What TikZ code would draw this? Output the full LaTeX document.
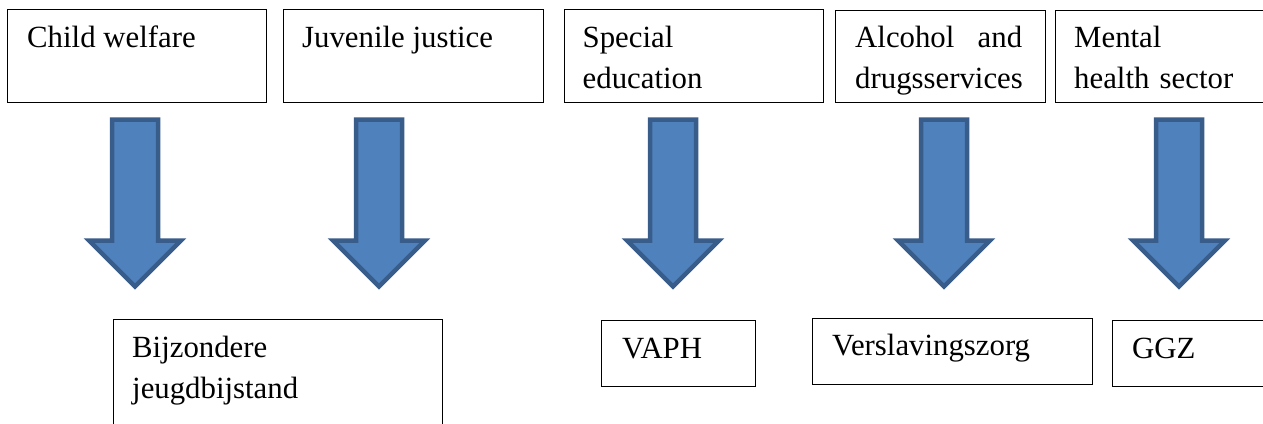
\documentclass[tikz,border=0pt]{standalone}
\usepackage{fontspec}
\setmainfont{Liberation Serif}
\usetikzlibrary{calc}
\definecolor{arrowfill}{HTML}{4F81BD}
\definecolor{arrowline}{HTML}{385D8A}
\tikzset{
  box/.style={draw=black, line width=1.2pt, rectangle, inner sep=0pt, anchor=north west},
  lbl/.style={inner sep=0pt, anchor=base west, font=\fontsize{30.8}{41}\selectfont},
  lbltwo/.style={lbl, align=left},
  blockarrow/.pic={
    \draw[fill=arrowfill, draw=arrowline, line width=4.5pt, line join=miter]
      (-23,0) -- (23,0) -- (23,121) -- (46,121) -- (0,167)
      -- (-46,121) -- (-23,121) -- cycle;
  }
}
\begin{document}
\begin{tikzpicture}[x=1pt, y=-1pt]
\clip (0,0) rectangle (1263,423);
\fill[white] (0,0) rectangle (1263,423);

% sectors (top row)
\node[box, minimum width=259pt, minimum height=93pt] (cw) at (7,9) {};
\node[box, minimum width=260pt, minimum height=93pt] (jj) at (283,9) {};
\node[box, minimum width=259pt, minimum height=93pt] (se) at (564,9) {};
\node[box, minimum width=210pt, minimum height=92pt] (ad) at (835,10) {};
\node[box, minimum width=240pt, minimum height=92pt] (mh) at (1055,10) {};

\node[lbl] at ($(cw.north west)+(20,38)$) {Child welfare};
\node[lbl] at ($(jj.north west)+(19,38)$) {Juvenile justice};
\node[lbltwo, text width=200pt] at ($(se.north west)+(18.5,38)$) {Special\\education};
\node[lbltwo, text width=167pt] at ($(ad.north west)+(20,37)$) {Alcohol\hfill and\\drugsservices};
\node[lbltwo, text width=200pt] at ($(mh.north west)+(19,37)$) {Mental\\health sector};

% flow arrows
\coordinate (a1) at (135,119.5);
\coordinate (a2) at (379,119.5);
\coordinate (a3) at (673,119.5);
\coordinate (a4) at (944,119.5);
\coordinate (a5) at (1179,119.5);
\foreach \c in {a1,a2,a3,a4,a5} { \pic at (\c) {blockarrow}; }

% services (bottom row)
\node[box, minimum width=329pt, minimum height=120pt] (bj) at (113,319) {};
\node[box, minimum width=154pt, minimum height=66pt] (va) at (601,320) {};
\node[box, minimum width=280pt, minimum height=66pt] (vz) at (812,318) {};
\node[box, minimum width=180pt, minimum height=66pt] (gg) at (1112,320) {};

\node[lbltwo, text width=300pt] at ($(bj.north west)+(19,38)$) {Bijzondere\\jeugdbijstand};
\node[lbl] at ($(va.north west)+(21,38)$) {VAPH};
\node[lbl] at ($(vz.north west)+(20,37)$) {Verslavingszorg};
\node[lbl] at ($(gg.north west)+(20,38)$) {GGZ};
\end{tikzpicture}
\end{document}
